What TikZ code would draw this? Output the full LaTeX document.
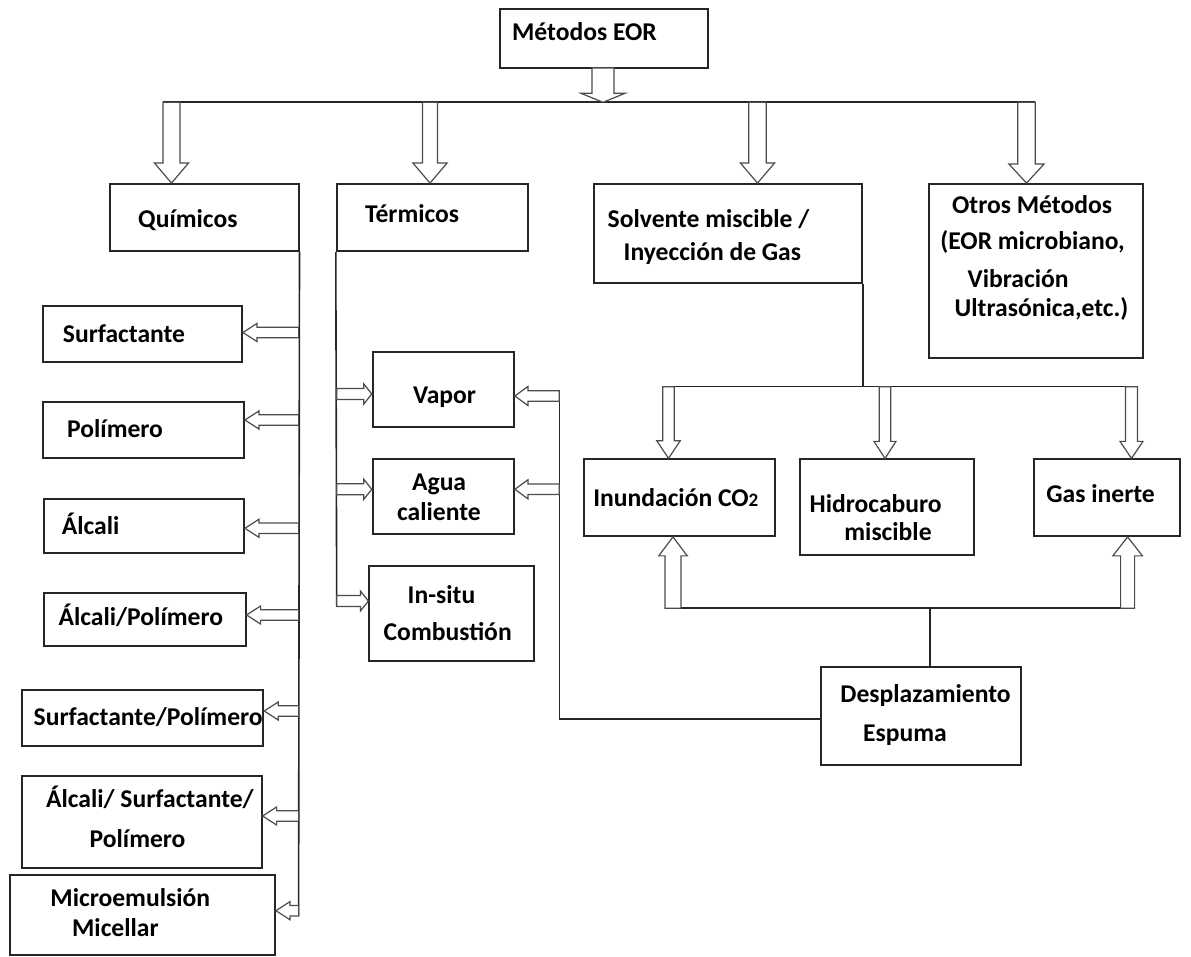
\documentclass[tikz,border=0pt]{standalone}
\usepackage{fontspec}
\setmainfont{Carlito}
\usetikzlibrary{calc,fit}
\newcommand\barrow[5]{%
  \coordinate (ba-h) at ($(#2)!#5*0.5pt!(#1)$);
  \draw[blockarr] ($(#1)!#3*0.5pt!90:(#2)$) -- ($(ba-h)!#3*0.5pt!90:(#2)$) -- ($(ba-h)!#4*0.5pt!90:(#2)$) -- (#2) -- ($(ba-h)!#4*0.5pt!-90:(#2)$) -- ($(ba-h)!#3*0.5pt!-90:(#2)$) -- ($(#1)!#3*0.5pt!-90:(#2)$) -- cycle;
}
\newcommand\bx[5]{%
  \coordinate (#1-a) at (#2,#3);
  \coordinate (#1-b) at (#4,#5);
  \node[box, fit=(#1-a)(#1-b)] (#1) {};
}
\begin{document}
\begin{tikzpicture}[x=0.5pt,y=-0.5pt,
  box/.style={draw=black!85, line width=0.9pt, inner sep=0pt},
  conn/.style={draw=black!85, line width=0.8pt},
  blockarr/.style={draw=black!70, line width=0.6pt, fill=white, line join=miter},
  lbl/.style={inner sep=0pt, anchor=base west, font=\fontsize{12.8}{15}\selectfont\bfseries}]
\fill[white] (0,0) rectangle (1191,957);
\useasboundingbox (0,0) rectangle (1191,957);

% boxes
\bx{M}{500}{9}{707.7}{68}
\bx{Q}{109.8}{184}{298.6}{251}
\bx{T}{336.7}{184}{527.7}{251}
\bx{S}{594.3}{184}{862.3}{282.7}
\bx{O}{929.3}{184}{1143.3}{358.3}
\bx{C1}{42.9}{306}{242}{362.3}
\bx{C2}{43}{402.3}{244}{457.7}
\bx{C3}{44}{499.3}{244}{553.3}
\bx{C4}{44}{593.3}{245.7}{646}
\bx{C5}{22}{690}{263.3}{746}
\bx{C6}{22}{776}{261.7}{868.3}
\bx{C7}{10}{875}{275}{955}
\bx{V}{372.7}{352.3}{514}{427.3}
\bx{A}{372.7}{459}{514}{534}
\bx{I}{369.3}{566}{534.3}{660.7}
\bx{G1}{583.9}{459.3}{775}{536}
\bx{G2}{800.3}{459.3}{974.3}{555}
\bx{G3}{1033.7}{459.3}{1180}{536}
\bx{D}{821}{667.3}{1021}{765}

% texts
\node[lbl] (tM) at (511.7,40.7) {Métodos EOR};
\node[lbl] (tQ) at (137.8,227.5) {Químicos};
\node[lbl] (tT) at (364.7,222.7) {Térmicos};
\node[lbl] (tS1) at (607.3,227.7) {Solvente miscible /};
\node[lbl] (tS2) at (623.3,261) {Inyección de Gas};
\node[lbl] (tO1) at (951.7,213.3) {Otros Métodos};
\node[lbl] (tO2) at (940,250) {(EOR microbiano,};
\node[lbl] (tO3) at (967.3,287.3) {Vibración};
\node[lbl] (tO4) at (954.3,316.7) {Ultrasónica,etc.)};
\node[lbl] (tC1) at (62.5,342.3) {Surfactante};
\node[lbl] (tC2) at (66.8,437.3) {Polímero};
\node[lbl] (tC3) at (61.4,535) {Álcali};
\node[lbl] (tC4) at (58.2,626) {Álcali/Polímero};
\node[lbl] (tC5) at (33.3,725.3) {Surfactante/Polímero};
\node[lbl] (tC6a) at (45.7,807.7) {Álcali/ Surfactante/};
\node[lbl] (tC6b) at (89.3,847.3) {Polímero};
\node[lbl] (tC7a) at (50,906.7) {Microemulsión};
\node[lbl] (tC7b) at (71.7,936.7) {Micellar};
\node[lbl] (tV) at (412.7,403.3) {Vapor};
\node[lbl] (tA1) at (411.7,490.7) {Agua};
\node[lbl] (tA2) at (396.7,521) {caliente};
\node[lbl] (tI1) at (407.3,603.3) {In-situ};
\node[lbl] (tI2) at (383.3,640.7) {Combustión};
\node[lbl] (tG1) at (592.9,506.7) {Inundación CO{\fontsize{9.5}{10}\selectfont 2}};
\node[lbl] (tG2a) at (809.3,512.3) {Hidrocaburo};
\node[lbl] (tG2b) at (844,541) {miscible};
\node[lbl] (tG3) at (1046,502.7) {Gas inerte};
\node[lbl] (tD1) at (840,702.7) {Desplazamiento};
\node[lbl] (tD2) at (862.7,741.7) {Espuma};

% connector coordinates
\coordinate (hlL) at (163,102.3);
\coordinate (hlR) at (1035.2,102.3);
\coordinate (brL) at (662.8,386.7);
\coordinate (brR) at (1137.5,386.7);
\coordinate (btL) at (665,608.3);
\coordinate (btR) at (1134.6,608.3);
\coordinate (chemEnd) at (298.6,916);
\coordinate (termEnd) at (336.7,606.5);
\coordinate (dTop) at (930,667.3);
\coordinate (dBot) at (930,608.3);
\coordinate (fw) at (821,719.3);
\coordinate (fc) at (559.3,719.3);
\coordinate (ft) at (559.3,390.7);

% lines
\draw[conn] (hlL) -- (hlR);
\draw[conn] (Q.south east) -- (chemEnd);
\draw[conn] (T.south west) -- (termEnd);
\draw[conn] (S.south east) -- (S.south east |- brL);
\draw[conn] (brL) -- (brR);
\draw[conn] (btL) -- (btR);
\draw[conn] (dTop) -- (dBot);
\draw[conn] (fw) -- (fc) -- (ft);

% top arrows
\coordinate (am) at (603,68);
\barrow{am}{am |- hlL}{11}{22}{9}
\coordinate (aq) at (171.5,102.3);
\barrow{aq}{aq |- Q.north}{8.5}{17}{20}
\coordinate (at) at (430,102.3);
\barrow{at}{at |- T.north}{7.5}{17}{20}
\coordinate (as) at (757.5,102.3);
\barrow{as}{as |- S.north}{8.7}{17}{20}
\coordinate (ao) at (1026.5,102.3);
\barrow{ao}{ao |- O.north}{8.7}{17.5}{19}

% chemical arrows
\foreach \n/\y in {C1/332.5,C2/420,C3/528.3,C4/615,C5/711,C6/816,C7/910.7}{
  \coordinate (s\n) at (298.6,\y);
  \barrow{s\n}{s\n -| \n.east}{5.2}{9}{14}
}
% thermal arrows
\foreach \n/\y in {V/394,A/489.3,I/601}{
  \coordinate (t\n) at (336.7,\y);
  \barrow{t\n}{t\n -| \n.west}{5.5}{10}{8}
}
% foam to thermal arrows
\foreach \n/\y in {V/396,A/489.3}{
  \coordinate (f\n) at (559.3,\y);
  \barrow{f\n}{f\n -| \n.east}{5.2}{9.5}{13}
}
% gas arrows
\coordinate (g1) at (668.5,386.7);
\barrow{g1}{g1 |- G1.north}{5.7}{11.7}{17.6}
\coordinate (g2) at (885,386.7);
\barrow{g2}{g2 |- G2.north}{5.7}{11}{17}
\coordinate (g3) at (1131.5,386.7);
\barrow{g3}{g3 |- G3.north}{6}{11.5}{17}
\coordinate (u1) at (673,608.3);
\barrow{u1}{u1 |- G1.south}{8}{14.3}{19}
\coordinate (u3) at (1127.6,608.3);
\barrow{u3}{u3 |- G3.south}{7}{14.8}{19}
\end{tikzpicture}
\end{document}
